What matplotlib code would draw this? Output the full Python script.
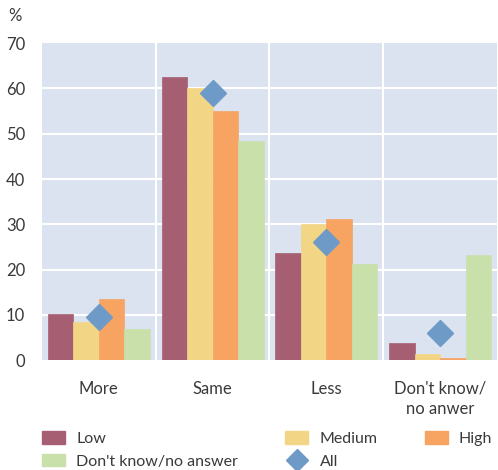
import numpy as np
import matplotlib.pyplot as plt
from matplotlib.lines import Line2D
from matplotlib.patches import Patch

# categories and series (percent)
categories = ["More", "Same", "Less", "Don't know/\nno anwer"]
low = [10.1, 62.5, 23.6, 3.7]
medium = [8.5, 60.0, 30.1, 1.3]
high = [13.5, 55.0, 31.2, 0.4]
dont_know = [6.8, 48.5, 21.3, 23.1]
all_resp = [9.4, 59.0, 26.0, 5.9]

series = [("Low", low, "#a65e72"),
          ("Medium", medium, "#f2d685"),
          ("High", high, "#f7a362"),
          ("Don't know/no answer", dont_know, "#c9e0ab")]

txt = "#3a3a3a"
plt.rcParams['font.family'] = ['Lato', 'DejaVu Sans']

fig = plt.figure(figsize=(4.98, 4.70), dpi=100)
ax = fig.add_axes([0.084, 0.234, 0.914, 0.674])
ax.set_facecolor("#dae3ef")

x = np.arange(len(categories))
w = 0.224
for i, (name, vals, col) in enumerate(series):
    ax.bar(x + (i - 1.5) * w, vals, width=w, color=col, zorder=3,
           edgecolor=col, linewidth=0.5)
ax.plot(x, all_resp, linestyle="none", marker="D", ms=13,
        color="#6e9ac7", zorder=4)

ax.set_xlim(-0.5, 3.5)
ax.set_ylim(0, 70)
ax.set_yticks(range(0, 71, 10))
for y in range(10, 70, 10):
    ax.axhline(y, color="white", lw=1.5, zorder=1)
for xv in [0.5, 1.5, 2.5]:
    ax.axvline(xv, color="white", lw=1.5, zorder=1)
ax.set_xticks(x)
ax.set_xticklabels(categories, linespacing=1.3)
ax.tick_params(length=0, labelsize=12, colors=txt, pad=15)
ax.tick_params(axis="y", pad=12)
for s in ax.spines.values():
    s.set_visible(False)

fig.text(0.016, 0.955, "%", fontsize=12, color=txt)

handles = [Patch(color=series[0][2]), Patch(color=series[3][2]),
           Patch(color=series[1][2]),
           Line2D([], [], linestyle="none", marker="D", ms=11, color="#6e9ac7"),
           Patch(color=series[2][2])]
labels = ["Low", "Don't know/no answer", "Medium", "All", "High"]
fig.legend(handles, labels, ncol=3, loc="upper left",
           bbox_to_anchor=(0.084, 0.082), frameon=False, fontsize=11.5,
           labelcolor=txt, handlelength=1.45, handleheight=0.8,
           handletextpad=0.7, columnspacing=2.95, labelspacing=0.5,
           borderaxespad=0, borderpad=0)

fig.savefig("out.png", dpi=100)
